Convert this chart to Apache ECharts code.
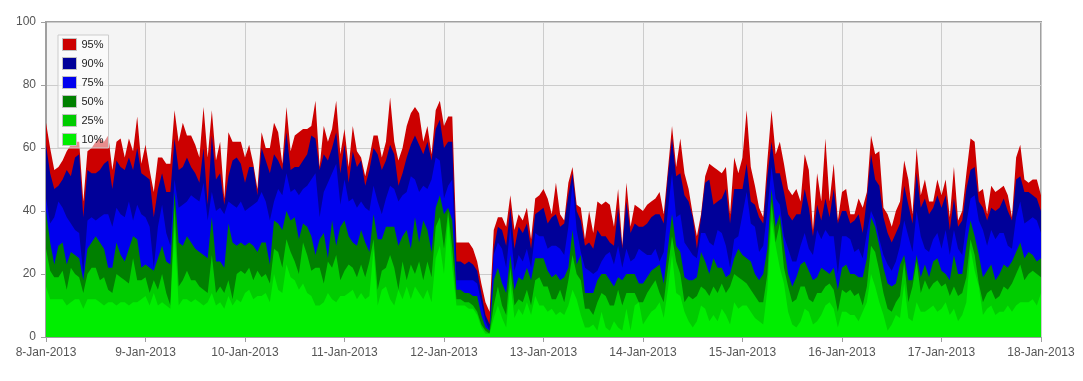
<!DOCTYPE html>
<html><head><meta charset="utf-8">
<script src="https://cdn.jsdelivr.net/npm/echarts@6/dist/echarts.min.js"></script>
<style>html,body{margin:0;padding:0;background:#fff}#c{width:1083px;height:381px}</style>
</head><body><div id="c"></div>
<script>
// Tick labels (one per day, 24 hourly samples per day)
const dayLabels = ['8-Jan-2013','9-Jan-2013','10-Jan-2013','11-Jan-2013','12-Jan-2013','13-Jan-2013','14-Jan-2013','15-Jan-2013','16-Jan-2013','17-Jan-2013','18-Jan-2013'];
const seriesNames = ['95%','90%','75%','50%','25%','10%'];
const seriesColors = ['#cc0000','#000099','#0000ee','#008000','#00cc00','#00ee00'];

// hourly values, one line per day
const p95 = [
68,60,53,54,56,59,61,62,62,43,59,60,62,63,62,64,53,62,63,57,63,59,70,55,
61,53,46,57,57,55,55,72,62,68,64,64,61,57,73,57,72,56,62,44,65,62,62,62,
57,61,55,47,65,60,60,68,65,55,73,59,64,65,66,66,67,75,54,67,62,66,75,58,
66,54,67,59,57,51,57,64,64,57,62,76,62,56,60,67,71,73,71,62,67,58,72,75,
67,70,70,30,30,30,30,28,24,17,11,8,34,38,38,35,45,34,39,37,41,31,44,45,
47,44,39,49,39,37,49,54,42,41,31,40,33,43,42,43,42,35,47,29,49,35,42,41,
40,42,43,44,46,39,53,67,54,63,52,47,39,32,39,51,55,54,53,52,54,39,57,52,
57,72,54,48,41,38,56,72,58,62,55,47,45,47,43,58,53,34,52,43,63,43,55,37,
46,47,39,39,44,41,46,64,58,59,41,39,35,40,43,56,50,39,60,45,50,43,43,50,
45,50,38,54,37,40,52,63,62,46,47,39,48,46,47,48,45,38,57,61,50,49,50,50,45];
const p90 = [
61,52,47,48,50,53,51,57,58,38,53,52,52,53,55,56,47,56,54,53,57,53,60,52,
51,50,38,47,52,46,46,63,53,54,57,54,52,49,60,42,64,50,52,42,51,56,57,55,
49,54,54,45,60,56,52,58,56,53,65,53,54,54,56,58,64,63,53,58,56,60,65,52,
61,49,59,54,56,48,53,60,58,53,56,61,58,48,52,57,61,64,61,58,62,56,66,69,
60,62,62,24,24,23,24,23,21,14,7,4,28,35,34,29,41,28,35,33,36,28,39,40,
41,36,38,39,35,36,45,52,40,37,29,30,28,34,32,32,30,29,41,28,43,33,36,35,
35,36,38,39,39,36,51,63,51,52,45,43,38,28,38,49,50,42,43,44,47,36,47,47,
47,55,43,42,38,36,51,62,52,52,46,39,37,39,39,47,41,32,42,37,44,38,47,36,
40,40,36,37,39,33,44,58,50,48,38,33,30,33,36,48,42,36,52,41,44,39,41,45,
41,45,34,44,35,37,47,53,54,43,41,37,41,40,41,44,40,37,50,51,46,46,45,44,40];
const p75 = [
44,36,38,43,41,38,36,34,33,20,37,38,37,38,39,39,35,41,39,38,43,37,42,39,
38,35,22,35,42,33,29,50,41,42,43,45,44,43,49,37,46,40,41,39,43,42,41,43,
40,41,42,43,46,43,37,43,47,45,52,46,47,45,47,48,50,52,38,46,49,52,55,42,
50,43,44,41,43,41,40,48,43,39,44,48,47,43,45,46,51,50,46,48,47,50,57,56,
44,48,50,18,18,18,18,18,17,11,5,2,26,30,28,22,35,21,26,24,28,22,33,32,
32,28,29,29,28,26,35,49,34,27,22,21,20,21,24,26,27,23,29,22,28,24,25,28,
27,26,26,28,24,27,40,52,38,39,30,28,26,25,33,33,30,29,34,33,29,22,31,32,
39,46,36,35,27,29,40,54,44,42,32,28,24,24,29,33,28,26,34,31,34,32,32,20,
32,32,31,27,28,25,33,40,37,31,26,23,21,24,29,37,32,27,40,32,28,27,31,33,
28,34,26,34,28,26,36,44,45,37,34,29,34,31,33,33,29,28,38,43,36,37,38,37,33];
const p50 = [
40,30,23,29,30,23,27,26,25,18,28,30,32,30,28,22,22,30,26,24,28,32,31,22,
23,22,21,25,29,24,23,46,30,29,32,30,28,27,26,25,38,24,24,22,36,30,29,30,
29,30,29,27,30,30,23,37,36,34,40,37,38,31,36,35,32,26,31,33,25,37,29,35,
37,32,30,29,34,30,27,39,31,31,35,35,35,29,32,34,28,38,30,37,34,27,41,45,
39,41,37,15,15,14,14,13,13,7,3,2,18,22,17,14,26,15,19,18,22,18,25,25,
25,21,19,20,18,19,22,34,23,26,14,14,14,18,20,20,18,16,19,18,20,20,20,17,
17,19,21,22,23,17,28,39,29,27,19,18,18,19,27,24,20,25,22,22,19,20,25,28,
26,25,24,20,18,20,28,47,35,39,29,20,16,19,23,24,21,18,19,22,21,20,22,15,
22,23,20,20,19,19,25,38,35,29,22,17,16,17,23,26,18,18,26,19,23,19,24,25,
21,20,18,26,20,20,29,37,32,26,19,21,23,18,20,23,22,24,27,30,25,27,26,24,25];
const p25 = [
28,21,19,19,21,15,22,20,19,14,20,22,22,18,19,15,14,20,19,18,17,25,18,18,
19,14,18,15,20,14,10,42,16,18,21,18,18,16,15,14,26,14,16,14,18,12,20,21,
20,22,18,21,19,20,17,28,27,22,31,27,24,20,30,26,21,22,22,17,24,22,26,18,
21,23,22,19,23,19,24,31,15,21,22,26,22,15,24,18,23,20,24,18,24,19,35,38,
28,40,28,12,12,11,11,10,8,4,2,1,10,16,10,7,22,10,12,11,15,10,18,19,
16,16,12,12,15,11,18,26,20,18,9,9,7,11,14,13,10,10,15,10,14,14,14,11,
11,14,16,18,14,11,22,32,24,20,11,13,12,13,16,15,13,16,14,17,14,16,20,19,
18,17,15,13,11,11,20,43,30,36,22,16,11,12,16,16,12,11,14,14,16,17,15,8,
15,14,15,13,14,10,16,29,27,21,14,9,8,11,13,24,11,16,24,14,18,15,17,18,
16,17,13,16,13,14,19,31,26,17,11,14,15,12,13,16,15,17,20,23,18,20,21,20,19];
const p10 = [
16,12,12,12,12,10,11,12,12,9,12,12,12,11,10,11,11,10,11,11,10,11,11,12,
13,10,14,10,11,10,9,35,10,12,12,11,12,11,10,11,14,10,11,9,13,10,12,11,
14,15,12,13,13,14,11,20,15,14,23,19,18,15,17,14,13,10,10,11,14,12,11,13,
13,14,15,12,14,12,13,28,10,15,16,12,10,15,12,16,12,16,14,12,15,11,25,29,
20,38,22,10,10,10,9,9,7,3,1,1,6,10,6,3,17,6,9,7,11,7,13,10,
10,8,9,7,8,7,10,15,12,7,3,3,4,2,8,3,2,5,3,2,9,2,10,11,
4,6,8,9,11,6,15,26,14,13,8,5,3,5,10,9,5,7,5,9,7,4,11,9,
10,10,8,6,5,4,15,37,29,22,17,8,4,3,5,9,8,4,5,7,10,11,9,3,
8,8,7,7,5,8,11,20,16,11,7,2,4,7,6,17,6,5,11,8,8,9,10,8,
9,11,7,9,5,7,11,28,21,16,7,9,10,7,8,8,10,8,10,11,11,11,12,10,14];

const allValues = [p95, p90, p75, p50, p25, p10];

const chart = echarts.init(document.getElementById('c'), null, {renderer: 'canvas'});
const font = 'Arial, "Liberation Sans", sans-serif';
chart.setOption({
  animation: false,
  backgroundColor: '#ffffff',
  grid: {left: 46, right: 42, top: 22, bottom: 44, show: true,
         backgroundColor: '#f4f4f4', borderColor: '#a0a0a0', borderWidth: 2},
  legend: {
    orient: 'vertical', left: 58, top: 35,
    itemWidth: 14, itemHeight: 12, itemGap: 6,
    padding: [3, 5, 2, 4],
    backgroundColor: 'rgba(255,255,255,0.55)', borderColor: '#cccccc', borderWidth: 1,
    icon: 'rect',
    itemStyle: {borderColor: '#c0c0c0', borderWidth: 1},
    textStyle: {color: '#222', fontSize: 11, fontFamily: font},
    data: seriesNames
  },
  xAxis: {
    type: 'value', min: 0, max: 240, interval: 24,
    axisLine: {show: true, lineStyle: {color: '#a0a0a0', width: 1}},
    axisTick: {show: true, length: 5, lineStyle: {color: '#a0a0a0'}},
    axisLabel: {color: '#555', fontSize: 12, fontFamily: font, margin: 10,
      formatter: v => dayLabels[Math.round(v / 24)]},
    splitLine: {show: true, lineStyle: {color: '#cccccc', width: 1}}
  },
  yAxis: {
    type: 'value', min: 0, max: 100, interval: 20,
    axisLine: {show: true, lineStyle: {color: '#a0a0a0', width: 1}},
    axisTick: {show: true, length: 5, lineStyle: {color: '#a0a0a0'}},
    axisLabel: {color: '#555', fontSize: 12, fontFamily: font, margin: 10},
    splitLine: {show: true, lineStyle: {color: '#cccccc', width: 1}}
  },
  series: seriesNames.map((name, k) => ({
    name: name, type: 'line', showSymbol: false, symbol: 'none',
    color: seriesColors[k],
    lineStyle: {width: 0, color: seriesColors[k]},
    areaStyle: {color: seriesColors[k], opacity: 1},
    data: allValues[k].map((v, i) => [i, v]),
    z: 2
  }))
});
</script></body></html>
